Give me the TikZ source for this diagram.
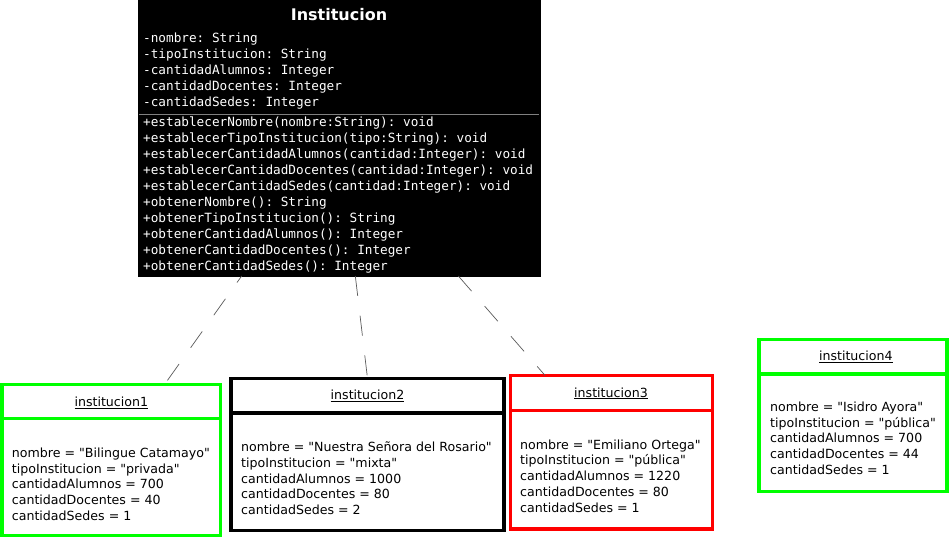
\documentclass[tikz,border=0pt]{standalone}
\usepackage{fontspec}
\setmainfont{DejaVu Sans}[Ligatures=TeXOff]
\newfontfamily\monof{DejaVu Sans Mono}[Ligatures=TeXOff]
\definecolor{objgreen}{RGB}{0,255,0}
\definecolor{objred}{RGB}{255,0,0}
\frenchspacing
\begin{document}
\begin{tikzpicture}[x=1pt,y=-1pt,
  clsbox/.style={fill=black, draw=black, inner sep=0pt, outer sep=0pt},
  clstitle/.style={font=\bfseries\fontsize{16}{16}\selectfont, text=white, anchor=base, inner sep=0pt},
  monoline/.style={font=\monof\fontsize{12.7}{16}\selectfont, text=white, anchor=base west, inner sep=0pt},
  objbox/.style={draw, line width=3.5pt, fill=white, inner sep=0pt, outer sep=0pt},
  objtitle/.style={font=\fontsize{12.6}{16}\selectfont, anchor=base, inner sep=0pt},
  attrline/.style={font=\fontsize{12.6}{16}\selectfont, anchor=base west, inner sep=0pt},
  conn/.style={draw=black!65, line width=0.7pt, dash pattern=on 20pt off 20pt}
]
\useasboundingbox (0,0) rectangle (950,539);

% class box
\node[clsbox, minimum width=402pt, minimum height=276pt] (cls) at (339,138) {};
\node[clstitle] (clsT) at (339,20.5) {Institucion};
\draw[black!50, line width=0.5pt] (139,114.5) -- (539,114.5);
\foreach \t [count=\i] in {-nombre: String,-tipoInstitucion: String,-cantidadAlumnos: Integer,-cantidadDocentes: Integer,-cantidadSedes: Integer}
  \node[monoline] (ca\i) at (143,{42.5+16*(\i-1)}) {\t};
\foreach \t [count=\i] in {+establecerNombre(nombre:String): void,+establecerTipoInstitucion(tipo:String): void,+establecerCantidadAlumnos(cantidad:Integer): void,+establecerCantidadDocentes(cantidad:Integer): void,+establecerCantidadSedes(cantidad:Integer): void,+obtenerNombre(): String,+obtenerTipoInstitucion(): String,+obtenerCantidadAlumnos(): Integer,+obtenerCantidadDocentes(): Integer,+obtenerCantidadSedes(): Integer}
  \node[monoline] (co\i) at (143,{126.5+16*(\i-1)}) {\t};

% object boxes
\node[objbox, draw=objgreen, minimum width=218.5pt, minimum height=151pt] (o1) at (111.25,460) {};
\draw[objgreen, line width=3.5pt] (o1.west |- 0,418.7) -- (o1.east |- 0,418.7);
\node[objtitle] (o1t) at (111.3,406.5) {\underline{institucion1}};
\foreach \t [count=\i] in {nombre = "Bilingue Catamayo",tipoInstitucion = "privada",cantidadAlumnos = 700,cantidadDocentes = 40,cantidadSedes = 1}
  \node[attrline] (o1a\i) at (11.7,{457.3+15.7*(\i-1)}) {\t};

\node[objbox, draw=black, minimum width=273pt, minimum height=152.2pt] (o2) at (367.5,454.4) {};
\draw[black, line width=3.5pt] (o2.west |- 0,412.8) -- (o2.east |- 0,412.8);
\node[objtitle] (o2t) at (367.5,399.3) {\underline{institucion2}};
\foreach \t [count=\i] in {nombre = "Nuestra Señora del Rosario",tipoInstitucion = "mixta",cantidadAlumnos = 1000,cantidadDocentes = 80,cantidadSedes = 2}
  \node[attrline] (o2a\i) at (241,{451.7+15.7*(\i-1)}) {\t};

\node[objbox, draw=objred, minimum width=202.2pt, minimum height=153.3pt] (o3) at (611.4,452.15) {};
\draw[objred, line width=3.5pt] (o3.west |- 0,410.3) -- (o3.east |- 0,410.3);
\node[objtitle] (o3t) at (611,397) {\underline{institucion3}};
\foreach \t [count=\i] in {nombre = "Emiliano Ortega",tipoInstitucion = "pública",cantidadAlumnos = 1220,cantidadDocentes = 80,cantidadSedes = 1}
  \node[attrline] (o3a\i) at (520,{449+15.9*(\i-1)}) {\t};

\node[objbox, draw=objgreen, minimum width=188.2pt, minimum height=152.2pt] (o4) at (852.9,415.6) {};
\draw[objgreen, line width=3.5pt] (o4.west |- 0,373.8) -- (o4.east |- 0,373.8);
\node[objtitle] (o4t) at (855.8,360.7) {\underline{institucion4}};
\foreach \t [count=\i] in {nombre = "Isidro Ayora",tipoInstitucion = "pública",cantidadAlumnos = 700,cantidadDocentes = 44,cantidadSedes = 1}
  \node[attrline] (o4a\i) at (770,{411.7+15.6*(\i-1)}) {\t};

% connectors
\draw[conn, dash phase=12pt] (cls) -- (o1);
\draw[conn, dash phase=0pt] (cls) -- (o2.north);
\draw[conn, dash phase=0pt] (cls) -- (o3);
\end{tikzpicture}
\end{document}
